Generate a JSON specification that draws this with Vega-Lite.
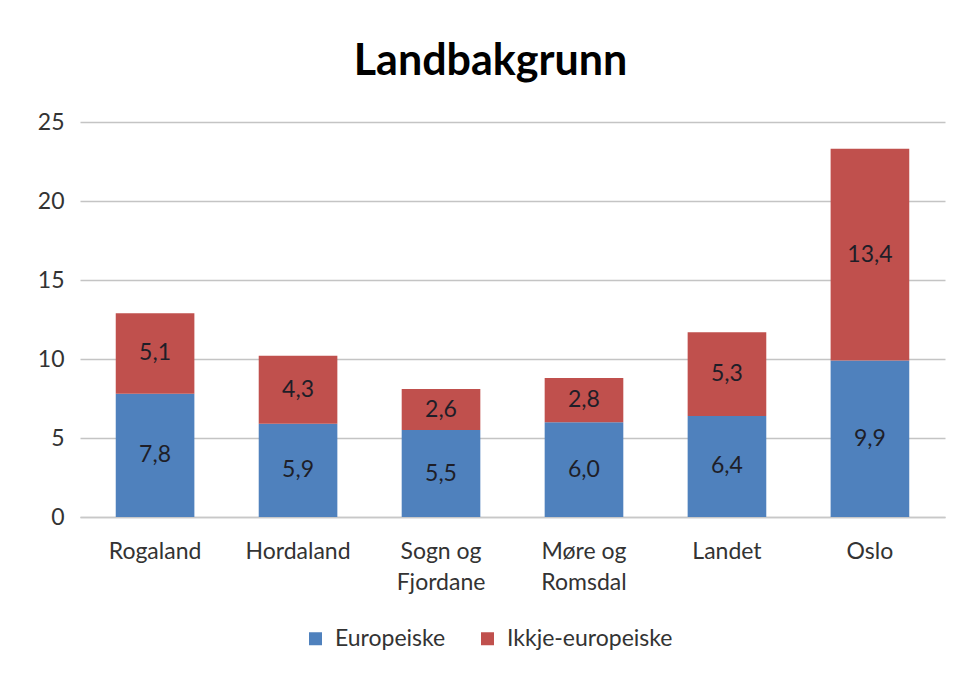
{
  "$schema": "https://vega.github.io/schema/vega-lite/v6.json",
  "autosize": "none",
  "width": 865,
  "height": 395,
  "padding": {"left": 80, "top": 122, "right": 12, "bottom": 158},
  "background": "white",
  "config": {
    "font": "Lato",
    "view": {"stroke": null},
    "axis": {"labelFont": "Lato", "labelFontSize": 23, "labelColor": "#333333"}
  },
  "title": {
    "text": "Landbakgrunn",
    "fontSize": 43,
    "fontWeight": "bold",
    "font": "Lato",
    "color": "#000000",
    "anchor": "middle",
    "dx": -22,
    "offset": 27
  },
  "data": {
    "values": [
      {"region": "Rogaland", "gruppe": "Europeiske", "verdi": 7.8},
      {"region": "Rogaland", "gruppe": "Ikkje-europeiske", "verdi": 5.1},
      {"region": "Hordaland", "gruppe": "Europeiske", "verdi": 5.9},
      {"region": "Hordaland", "gruppe": "Ikkje-europeiske", "verdi": 4.3},
      {"region": "Sogn og Fjordane", "gruppe": "Europeiske", "verdi": 5.5},
      {"region": "Sogn og Fjordane", "gruppe": "Ikkje-europeiske", "verdi": 2.6},
      {"region": "Møre og Romsdal", "gruppe": "Europeiske", "verdi": 6.0},
      {"region": "Møre og Romsdal", "gruppe": "Ikkje-europeiske", "verdi": 2.8},
      {"region": "Landet", "gruppe": "Europeiske", "verdi": 6.4},
      {"region": "Landet", "gruppe": "Ikkje-europeiske", "verdi": 5.3},
      {"region": "Oslo", "gruppe": "Europeiske", "verdi": 9.9},
      {"region": "Oslo", "gruppe": "Ikkje-europeiske", "verdi": 13.4}
    ]
  },
  "transform": [
    {"calculate": "datum.gruppe == 'Europeiske' ? 0 : 1", "as": "ord"},
    {"stack": "verdi", "groupby": ["region"], "sort": [{"field": "ord", "order": "ascending"}], "as": ["y0", "y1"]},
    {"calculate": "(datum.y0 + datum.y1) / 2", "as": "ymid"},
    {"calculate": "replace(format(datum.verdi, '.1f'), '.', ',')", "as": "lbl"}
  ],
  "encoding": {
    "x": {
      "field": "region",
      "type": "nominal",
      "sort": ["Rogaland", "Hordaland", "Sogn og Fjordane", "Møre og Romsdal", "Landet", "Oslo"],
      "scale": {"paddingInner": 0.45, "paddingOuter": 0.25},
      "axis": {
        "title": null,
        "labelAngle": 0,
        "ticks": false,
        "domain": true,
        "domainColor": "#c8c8c8",
        "domainWidth": 1.5,
        "labelPadding": 23,
        "labelLineHeight": 31,
        "labelExpr": "datum.label == 'Sogn og Fjordane' ? ['Sogn og', 'Fjordane'] : datum.label == 'Møre og Romsdal' ? ['Møre og', 'Romsdal'] : datum.label"
      }
    }
  },
  "layer": [
    {
      "mark": {"type": "bar"},
      "encoding": {
        "y": {
          "field": "y0",
          "type": "quantitative",
          "scale": {"domain": [0, 25], "nice": false},
          "axis": {
            "title": null,
            "values": [0, 5, 10, 15, 20, 25],
            "domain": false,
            "ticks": false,
            "grid": true,
            "gridColor": "#c4c4c4",
            "gridWidth": 1.5,
            "labelPadding": 16
          }
        },
        "y2": {"field": "y1"},
        "color": {
          "field": "gruppe",
          "type": "nominal",
          "scale": {"domain": ["Europeiske", "Ikkje-europeiske"], "range": ["#4F81BD", "#C0504D"]},
          "legend": {
            "title": null,
            "orient": "none",
            "direction": "horizontal",
            "legendX": 224,
            "legendY": 505,
            "symbolType": "square",
            "symbolSize": 169,
            "symbolStrokeWidth": 0,
            "labelFont": "Lato",
            "labelFontSize": 23,
            "labelColor": "#333333",
            "labelLimit": 0,
            "columnPadding": 30,
            "labelOffset": 8
          }
        }
      }
    },
    {
      "mark": {"type": "text", "fontSize": 23, "font": "Lato", "baseline": "middle"},
      "encoding": {
        "y": {"field": "ymid", "type": "quantitative"},
        "text": {"field": "lbl"},
        "color": {"value": "#1e1e28"}
      }
    }
  ]
}
